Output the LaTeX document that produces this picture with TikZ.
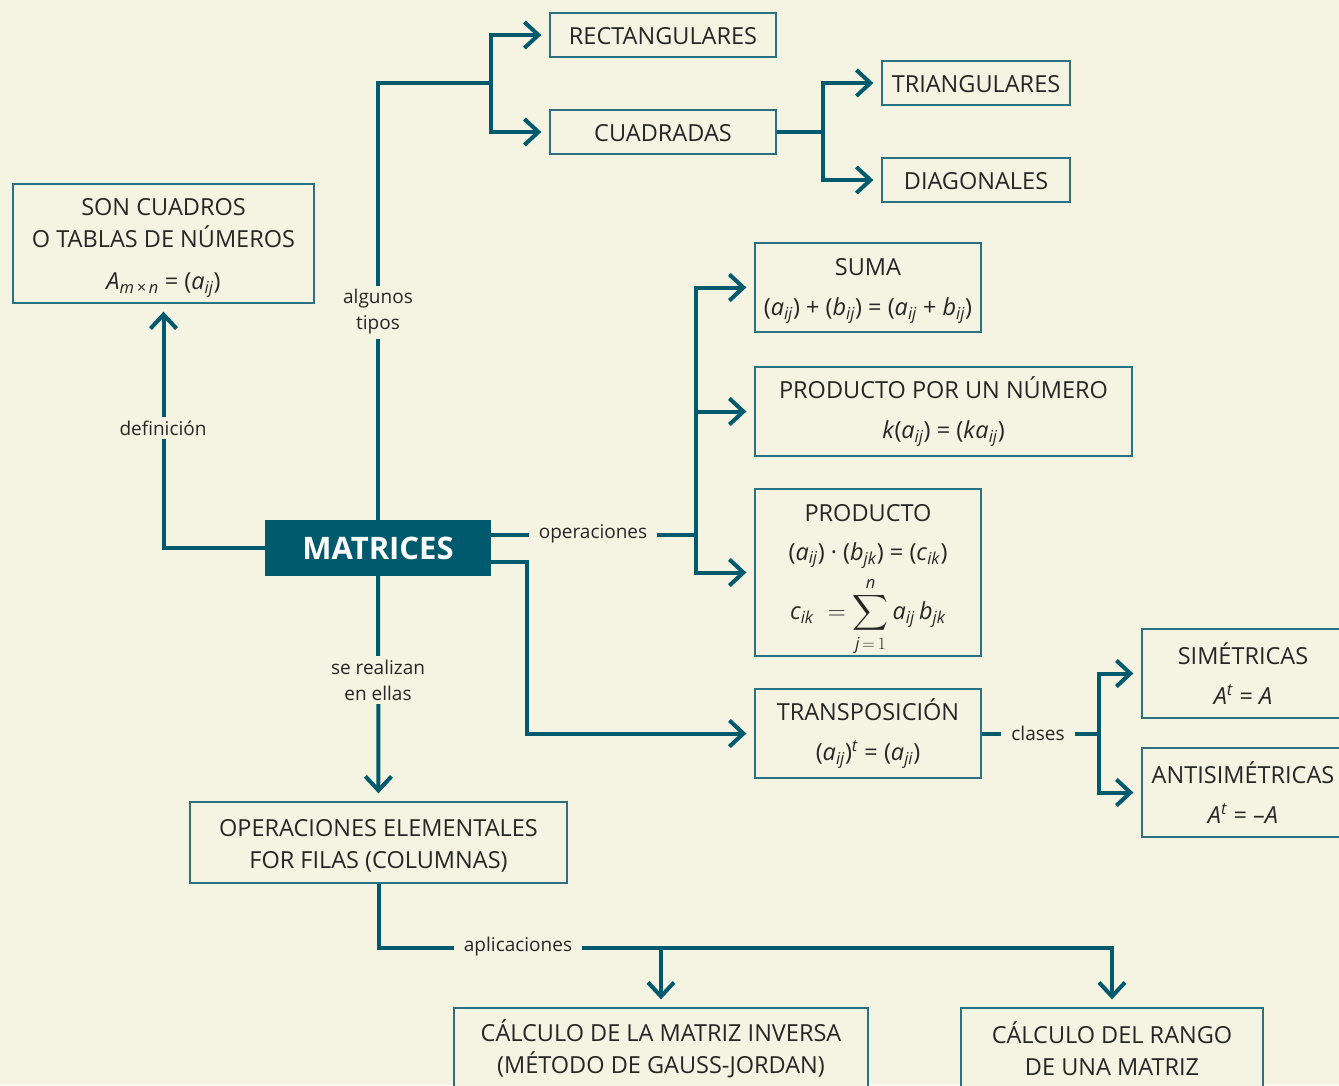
\documentclass[tikz,border=0pt]{standalone}
\usepackage{amsmath}
\usepackage{fontspec}
\setmainfont{Open Sans}
\usetikzlibrary{arrows.meta,calc}
\definecolor{bg}{HTML}{F5F4E2}
\definecolor{tealc}{HTML}{005A6E}
\definecolor{boxc}{HTML}{2A7283}
\definecolor{txt}{HTML}{262626}
\newcommand\sub[2]{\textit{#1}\textsubscript{\textit{#2}}}
\newcommand\tstrut[1]{\rule{0pt}{#1}}
\newcommand\boxfont{\fontsize{23.5}{32}\selectfont}
\newcommand\labfont{\fontsize{19}{26}\selectfont}
\begin{document}
\begin{tikzpicture}[x=1pt,y=-1pt,
  box/.style={draw=boxc, line width=1.3pt, fill=bg, text=txt, align=center, font=\boxfont, inner sep=0pt},
  lab/.style={fill=bg, text=txt, align=center, font=\labfont, inner xsep=10pt, inner ysep=4pt},
  conn/.style={draw=tealc, line width=4pt},
  arr/.style={-{Straight Barb[length=14pt,width=26pt]}, shorten >=8pt}]
\path[use as bounding box, fill=bg] (0,0) rectangle (1339,1085);

% boxes
\node[box, minimum width=301, minimum height=119] (son) at (163.5,243.5)
  {\tstrut{26pt}SON CUADROS\\O TABLAS DE NÚMEROS\\[10pt]\sub{A}{m\,×\,n} = (\sub{a}{ij})};
\node[fill=tealc, text=white, font=\fontsize{31}{34}\selectfont\bfseries, minimum width=226, minimum height=56, inner sep=0pt] (mat) at (378,548) {MATRICES};
\node[box, minimum width=226, minimum height=44] (rect) at (663,35) {\tstrut{20pt}RECTANGULARES};
\node[box, minimum width=226, minimum height=44] (cuad) at (663,132) {\tstrut{20pt}CUADRADAS};
\node[box, minimum width=188, minimum height=44] (tri) at (976,83) {\tstrut{20pt}TRIANGULARES};
\node[box, minimum width=188, minimum height=44] (diag) at (976,180) {\tstrut{20pt}DIAGONALES};
\node[box, minimum width=226, minimum height=89] (suma) at (868,287.5)
  {\tstrut{24pt}SUMA\\[8pt](\sub{a}{ij}) + (\sub{b}{ij}) = (\sub{a}{ij} + \sub{b}{ij})};
\node[box, minimum width=377, minimum height=89] (pnum) at (943.5,411.5)
  {PRODUCTO POR UN NÚMERO\\[8pt]\textit{k}(\sub{a}{ij}) = (\textit{k}\sub{a}{ij})};
\node[box, minimum width=226, minimum height=165] (prod) at (868,572.5)
  {\tstrut{32pt}PRODUCTO\\[7pt](\sub{a}{ij}) · (\sub{b}{jk}) = (\sub{c}{ik})\\[8pt]
   $\displaystyle \sub{c}{ik}\; = \sum_{\textit{j}\,=\,1}^{\textit{n}}\sub{a}{ij}\,\sub{b}{jk}$};
\node[box, minimum width=226, minimum height=89] (trans) at (868,733.5)
  {TRANSPOSICIÓN\\[8pt](\sub{a}{ij})\textsuperscript{\textit{t}} = (\sub{a}{ji})};
\node[box, minimum width=202, minimum height=89] (sim) at (1243,673.5)
  {SIMÉTRICAS\\[8pt]\textit{A}\textsuperscript{\textit{t}} = \textit{A}};
\node[box, minimum width=202, minimum height=89] (anti) at (1243,792.5)
  {ANTISIMÉTRICAS\\[8pt]\textit{A}\textsuperscript{\textit{t}} = –\textit{A}};
\node[box, minimum width=377, minimum height=81] (ope) at (378.5,842.5)
  {\tstrut{24pt}OPERACIONES ELEMENTALES\\FOR FILAS (COLUMNAS)};
\node[box, minimum width=414, minimum height=82] (cinv) at (661,1049)
  {CÁLCULO DE LA MATRIZ INVERSA\\(MÉTODO DE GAUSS-JORDAN)};
\node[box, minimum width=302, minimum height=82] (crango) at (1112,1049)
  {CÁLCULO DEL RANGO\\DE UNA MATRIZ};

% junctions
\coordinate (j1) at (491,83);
\coordinate (j2) at (823,132);
\coordinate (j3) at (696,535);
\coordinate (c4) at (527,733.5);
\coordinate (j5) at (1099,733.5);
\coordinate (j6) at (1112,948);

% connectors
\draw[conn, arr] (mat.west) -| (son.south);
\draw[conn] (mat.north) |- (j1);
\draw[conn, arr] (j1) |- (rect.west);
\draw[conn, arr] (j1) |- (cuad.west);
\draw[conn] (cuad.east) -- (j2);
\draw[conn, arr] (j2) |- (tri.west);
\draw[conn, arr] (j2) |- (diag.west);
\draw[conn] ([yshift=13pt]mat.east) -- (j3);
\draw[conn, arr] (j3) |- (suma.west);
\draw[conn, arr] (j3) |- (pnum.west);
\draw[conn, arr] (j3) |- (prod.west);
\draw[conn, arr] ([yshift=-14pt]mat.east) -| (c4) -- (trans.west);
\draw[conn] (trans.east) -- (j5);
\draw[conn, arr] (j5) |- (sim.west);
\draw[conn, arr] (j5) |- (anti.west);
\draw[conn, arr] (mat.south) -- (ope.north);
\draw[conn, arr] (ope.south) |- (j6) -- (crango.north);
\draw[conn, arr] (cinv.north |- j6) -- (cinv.north);

% labels
\node[lab] (ldef) at (163,428) {definición};
\node[lab] (ltip) at (378,312) {algunos\\tipos};
\node[lab] (lop) at (593,534) {operaciones};
\node[lab] (lcla) at (1038,733) {clases};
\node[lab] (lrea) at (378,680) {se realizan\\en ellas};
\node[lab] (lapl) at (518,947) {aplicaciones};
\end{tikzpicture}
\end{document}
